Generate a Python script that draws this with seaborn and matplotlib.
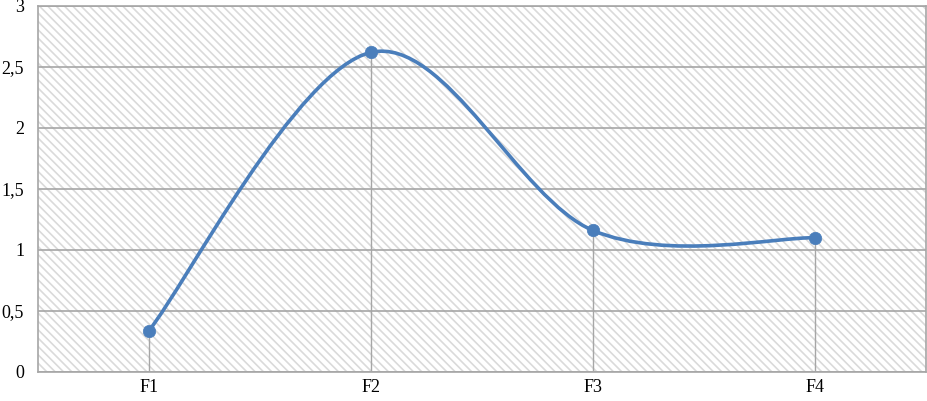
import numpy as np
import matplotlib
matplotlib.use("Agg")
import matplotlib.pyplot as plt
from matplotlib.path import Path
from matplotlib.patches import PathPatch, Rectangle
from matplotlib.ticker import FuncFormatter
import seaborn as sns

# data
categories = ["F1", "F2", "F3", "F4"]
values = [0.34, 2.62, 1.16, 1.10]
y_ticks = [0, 0.5, 1, 1.5, 2, 2.5, 3]

sns.set_theme(style="white")
plt.rcParams['font.family'] = ['Liberation Serif', 'DejaVu Serif']
plt.rcParams['hatch.linewidth'] = 1.2

blue = "#4a7ebb"
grid_gray = "#a6a6a6"

fig = plt.figure(figsize=(9.28, 4.01), dpi=100)
ax = fig.add_axes([38 / 928, 1 - 372 / 401, 888 / 928, 366 / 401])

x = np.arange(len(categories))
ax.set_xlim(-0.5, len(categories) - 0.5)
ax.set_ylim(0, 3)

# hatched plot background
ax.add_patch(Rectangle((0, 0), 1, 1, transform=ax.transAxes, facecolor="white",
                       edgecolor="#dadada", hatch="\\\\\\\\", linewidth=0, zorder=0))

# horizontal gridlines
for t in y_ticks:
    ax.axhline(t, color=grid_gray, lw=1.2, zorder=1)

# drop lines
ax.vlines(x, 0, values, color=grid_gray, lw=1.0, zorder=1)

# smoothed line (Excel-like Catmull-Rom bezier)
pts = np.column_stack([x, values]).astype(float)
ext = np.vstack([pts[0], pts, pts[-1]])
verts = [tuple(pts[0])]
codes = [Path.MOVETO]
for i in range(len(pts) - 1):
    p0, p1, p2, p3 = ext[i], ext[i + 1], ext[i + 2], ext[i + 3]
    c1 = p1 + (p2 - p0) / 6
    c2 = p2 - (p3 - p1) / 6
    verts += [tuple(c1), tuple(c2), tuple(p2)]
    codes += [Path.CURVE4] * 3
ax.add_patch(PathPatch(Path(verts, codes), facecolor="none", edgecolor=blue,
                       lw=2.6, zorder=3, capstyle="round"))

sns.scatterplot(x=x, y=values, ax=ax, color=blue, s=80, edgecolor=blue,
                linewidth=0.5, zorder=4)

ax.set_xticks(x)
ax.set_xticklabels(categories)
ax.set_yticks(y_ticks)
ax.yaxis.set_major_formatter(FuncFormatter(lambda v, p: f"{v:g}".replace(".", ",")))
ax.tick_params(axis="both", length=0, labelsize=13, colors="black")
ax.tick_params(axis="x", pad=5)
ax.tick_params(axis="y", pad=10)
ax.set_xlabel("")
ax.set_ylabel("")
for s in ax.spines.values():
    s.set_color(grid_gray)
    s.set_linewidth(1.2)

fig.savefig("out.png", dpi=100)
